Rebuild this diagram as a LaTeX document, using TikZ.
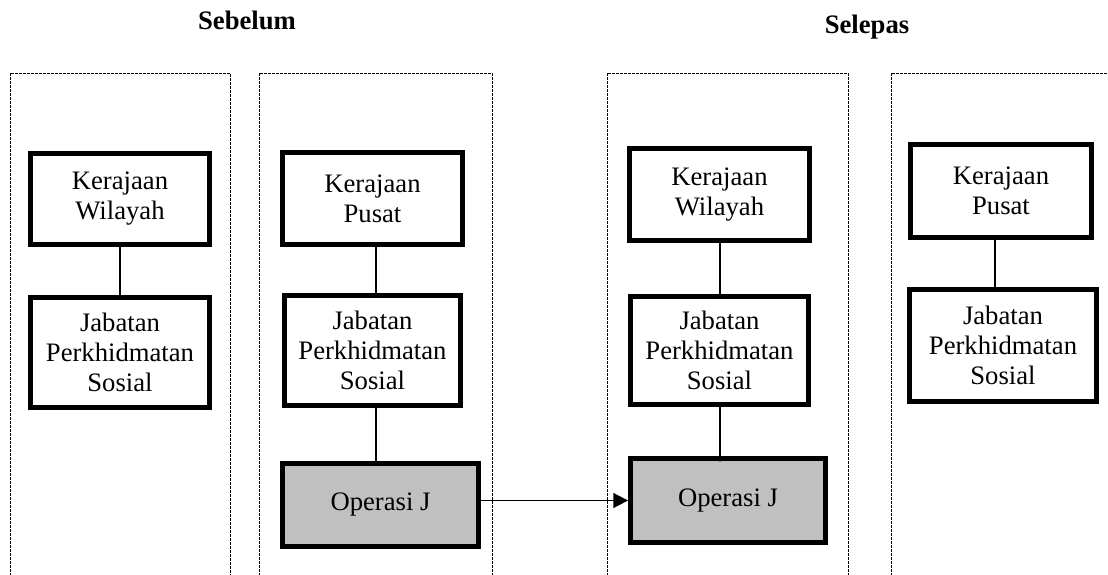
\documentclass[tikz,border=0pt]{standalone}
\usepackage{fontspec}
\setmainfont{Liberation Serif}
\usetikzlibrary{arrows.meta,calc}
\begin{document}
\begin{tikzpicture}[x=0.75pt,y=-0.75pt,
  box/.style={draw=black,line width=3.6pt,fill=white,inner sep=0pt,align=center,
    font=\fontsize{20}{22.5}\selectfont},
  opbox/.style={box,fill=opgrey},
  panel/.style={draw=black,line width=0.6pt,dash pattern=on 2pt off 1pt},
  link/.style={draw=black,line width=1.3pt},
  title/.style={font=\fontsize{20}{24}\selectfont\bfseries,inner sep=0pt,anchor=base},
]
\definecolor{opgrey}{HTML}{C0C0C0}
\useasboundingbox (0,0) rectangle (1108,575);
% titles
\node[title] (t1) at (247,29) {Sebelum};
\node[title] (t2) at (867,33) {Selepas};
% panels (open at the bottom)
\draw[panel] (10,580) -- (10,73) -- (230,73) -- (230,580);
\draw[panel] (259,580) -- (259,73) -- (492,73) -- (492,580);
\draw[panel] (607,580) -- (607,73) -- (848,73) -- (848,580);
\draw[panel] (891,580) -- (891,73) -- (1110,73);
% panel 1
\node[box,minimum width=179*0.75pt,minimum height=91*0.75pt] (kw1) at (120,199) {Kerajaan\\Wilayah};
\node[box,minimum width=179*0.75pt,minimum height=110*0.75pt] (jps1) at (120,352.5) {Jabatan\\Perkhidmatan\\Sosial};
% panel 2
\node[box,minimum width=180*0.75pt,minimum height=92*0.75pt] (kp2) at (372.5,198.5) {Kerajaan\\Pusat};
\node[box,minimum width=176*0.75pt,minimum height=110*0.75pt] (jps2) at (372.5,350.5) {Jabatan\\Perkhidmatan\\Sosial};
\node[opbox,minimum width=196*0.75pt,minimum height=83*0.75pt] (oj2) at (380.5,505) {Operasi J};
% panel 3
\node[box,minimum width=180*0.75pt,minimum height=92*0.75pt] (kw3) at (719.5,194.5) {Kerajaan\\Wilayah};
\node[box,minimum width=178*0.75pt,minimum height=108*0.75pt] (jps3) at (719.5,350.5) {Jabatan\\Perkhidmatan\\Sosial};
\node[opbox,minimum width=195*0.75pt,minimum height=84*0.75pt] (oj3) at (728,500.5) {Operasi J};
% panel 4
\node[box,minimum width=181*0.75pt,minimum height=93*0.75pt] (kp4) at (1001,191) {Kerajaan\\Pusat};
\node[box,minimum width=187*0.75pt,minimum height=112*0.75pt] (jps4) at (1003,345.5) {Jabatan\\Perkhidmatan\\Sosial};
% connectors
\path[link] (kw1.south) -- (jps1.north);
\path[link] ([xshift=2.6pt]kp2.south) -- ([xshift=2.6pt]jps2.north);
\path[link] ([xshift=2.6pt]jps2.south) -- ([xshift=-3.4pt]oj2.north);
\path[link] ([xshift=0.4pt]kw3.south) -- ([xshift=0.4pt]jps3.north);
\path[link] ([xshift=0.4pt]jps3.south) -- ([xshift=-6pt,yshift=-4pt]oj3.north);
\path[link] ([xshift=-4.5pt]kp4.south) -- ([xshift=-6pt]jps4.north);
% arrow
\draw[line width=1.4pt,-{Triangle[length=11pt,width=11pt]}] (oj2.east |- oj3.west) -- (oj3.west);
\end{tikzpicture}
\end{document}
